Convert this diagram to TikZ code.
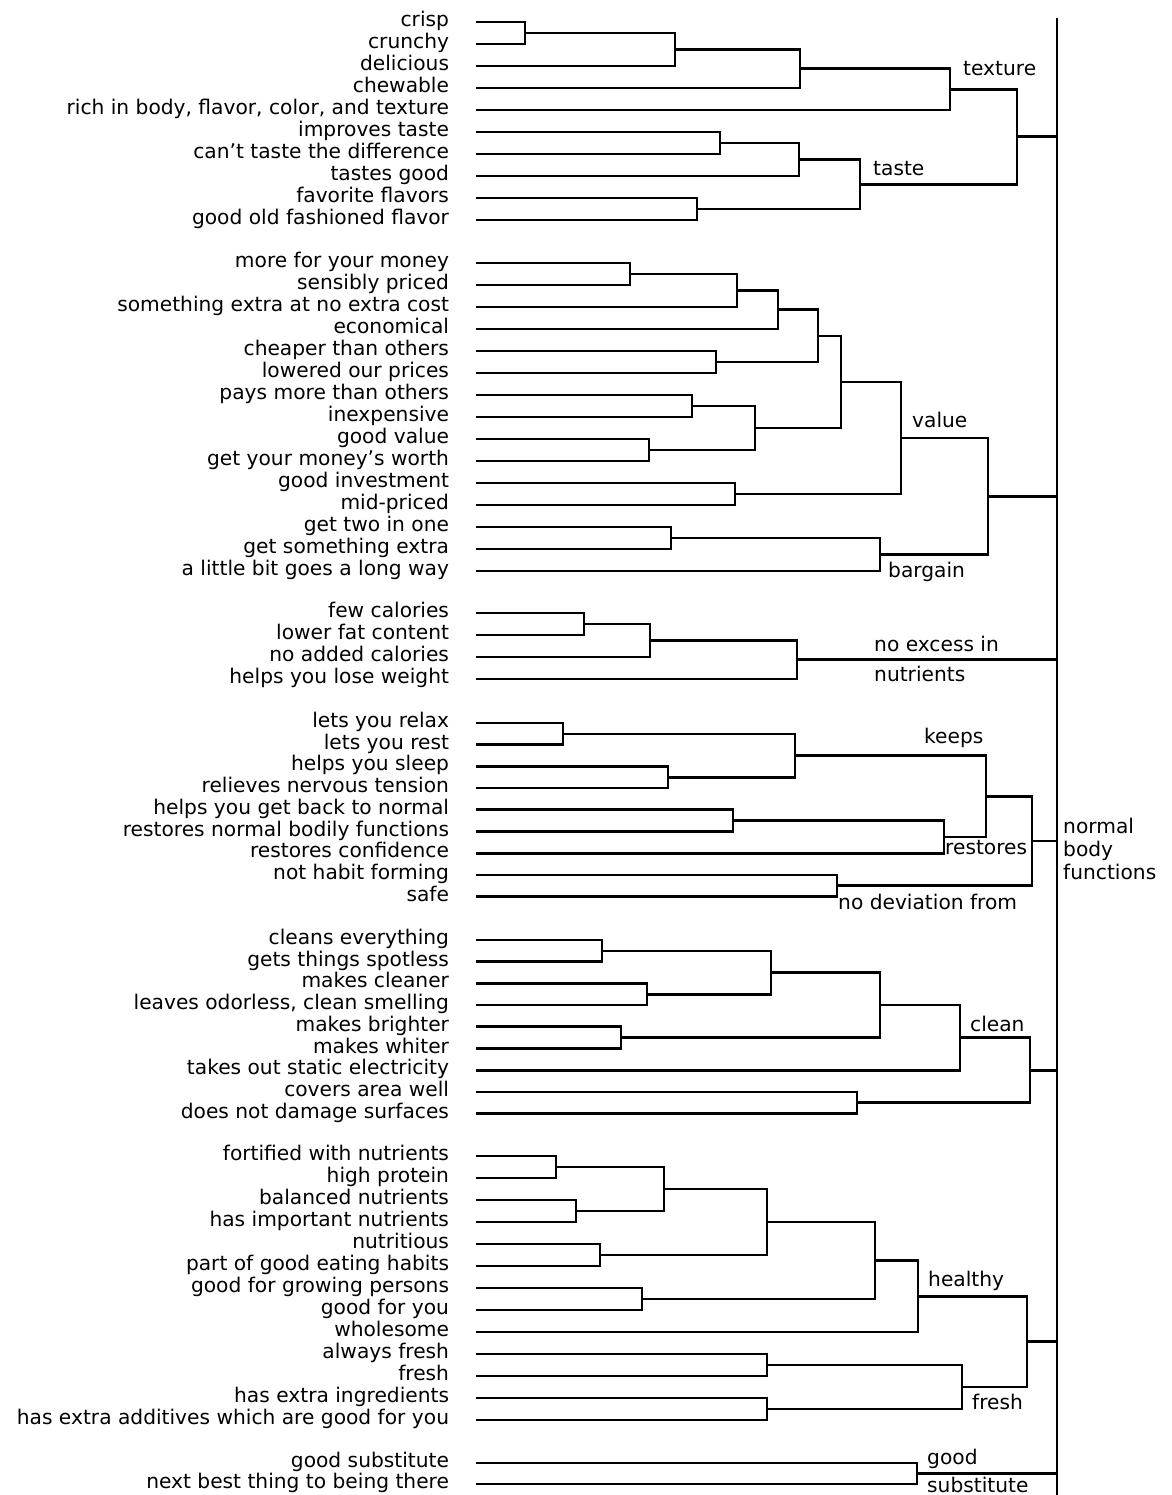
\documentclass[tikz,border=0pt]{standalone}
\usepackage{fontspec}
\setmainfont{DejaVu Sans}
\usepackage{tikz}
\usetikzlibrary{calc}
\tikzset{
  branch/.style={line width=2.7pt},
  item/.style={anchor=east,inner xsep=0pt,inner ysep=0pt,outer xsep=27pt,text height=14pt,text depth=5pt},
  tag/.style={anchor=base west,inner sep=0pt}
}
\newcommand\Merge[4]{%
  \coordinate (#4) at ($(#1 -| #3,0)!.5!(#2 -| #3,0)$);
  \draw[branch] (#1) -- (#1 -| #3,0) -- (#2 -| #3,0) -- (#2);}

\begin{document}
\begin{tikzpicture}[x=1pt,y=-1pt,font=\fontsize{20.2}{23}\selectfont]
  \useasboundingbox (0,0) rectangle (1171,1495);
  \coordinate (spTop) at (1057,18);
  \coordinate (spBot) at (1057,1495);
  \draw[line width=2.2pt] (spTop) -- (spBot);
  \foreach \txt [count=\i from 0] in {crisp,crunchy,delicious,chewable,{rich in body, flavor, color, and texture},improves taste,can't taste the difference,tastes good,favorite flavors,good old fashioned flavor}
    \node[item] (t\i) at (476,22+22*\i) {\txt};
  \foreach \txt [count=\i from 0] in {more for your money,sensibly priced,something extra at no extra cost,economical,cheaper than others,lowered our prices,pays more than others,inexpensive,good value,get your money's worth,good investment,mid-priced,get two in one,get something extra,a little bit goes a long way}
    \node[item] (v\i) at (476,263+22*\i) {\txt};
  \foreach \txt [count=\i from 0] in {few calories,lower fat content,no added calories,helps you lose weight}
    \node[item] (n\i) at (476,613+22*\i) {\txt};
  \foreach \txt [count=\i from 0] in {lets you relax,lets you rest,helps you sleep,relieves nervous tension,helps you get back to normal,restores normal bodily functions,restores confidence,not habit forming,safe}
    \node[item] (r\i) at (476,723+21.7*\i) {\txt};
  \foreach \txt [count=\i from 0] in {cleans everything,gets things spotless,makes cleaner,{leaves odorless, clean smelling},makes brighter,makes whiter,takes out static electricity,covers area well,does not damage surfaces}
    \node[item] (c\i) at (476,940+21.7*\i) {\txt};
  \foreach \txt [count=\i from 0] in {fortified with nutrients,high protein,balanced nutrients,has important nutrients,nutritious,part of good eating habits,good for growing persons,good for you,wholesome,always fresh,fresh,has extra ingredients,has extra additives which are good for you}
    \node[item] (h\i) at (476,1156+22*\i) {\txt};
  \foreach \txt [count=\i from 0] in {good substitute,next best thing to being there}
    \node[item] (g\i) at (476,1463+21*\i) {\txt};

  \Merge{t0}{t1}{525}{t01}
  \Merge{t01}{t2}{675}{t02}
  \Merge{t02}{t3}{800}{t03}
  \Merge{t03}{t4}{950}{tex}
  \Merge{t5}{t6}{720}{t56}
  \Merge{t56}{t7}{799}{t57}
  \Merge{t8}{t9}{697}{t89}
  \Merge{t57}{t89}{860}{tas}
  \Merge{tex}{tas}{1017}{tt}
  \draw[branch] (tt) -- (tt -| spTop);

  \Merge{v0}{v1}{630}{v01}
  \Merge{v01}{v2}{737}{v02}
  \Merge{v02}{v3}{778}{v03}
  \Merge{v4}{v5}{716}{v45}
  \Merge{v03}{v45}{818}{v05}
  \Merge{v6}{v7}{692}{v67}
  \Merge{v8}{v9}{649}{v89}
  \Merge{v67}{v89}{755}{v69}
  \Merge{v05}{v69}{841}{v09}
  \Merge{v10}{v11}{735}{v1011}
  \Merge{v09}{v1011}{901}{val}
  \Merge{v12}{v13}{671}{v1213}
  \Merge{v1213}{v14}{880}{bar}
  \Merge{val}{bar}{988}{vb}
  \draw[branch] (vb) -- (vb -| spTop);

  \Merge{n0}{n1}{584}{n01}
  \Merge{n01}{n2}{650}{n02}
  \Merge{n02}{n3}{797}{nut}
  \draw[branch] (nut) -- (nut -| spTop);

  \Merge{r0}{r1}{563}{r01}
  \Merge{r2}{r3}{668}{r23}
  \Merge{r01}{r23}{795}{kee}
  \Merge{r4}{r5}{733}{r45}
  \Merge{r45}{r6}{944}{res}
  \Merge{kee}{res}{986}{kr}
  \Merge{r7}{r8}{837}{dev}
  \Merge{kr}{dev}{1032}{nor}
  \draw[branch] (nor) -- (nor -| spTop);

  \Merge{c0}{c1}{602}{c01}
  \Merge{c2}{c3}{647}{c23}
  \Merge{c01}{c23}{771}{c03}
  \Merge{c4}{c5}{621}{c45}
  \Merge{c03}{c45}{880}{c05}
  \Merge{c05}{c6}{960}{cle}
  \Merge{c7}{c8}{857}{c78}
  \Merge{cle}{c78}{1030}{cc}
  \draw[branch] (cc) -- (cc -| spTop);

  \Merge{h0}{h1}{556}{h01}
  \Merge{h2}{h3}{576}{h23}
  \Merge{h01}{h23}{664}{h03}
  \Merge{h4}{h5}{600}{h45}
  \Merge{h03}{h45}{767}{h05}
  \Merge{h6}{h7}{642}{h67}
  \Merge{h05}{h67}{875}{h07}
  \Merge{h07}{h8}{918}{hea}
  \Merge{h9}{h10}{767}{h910}
  \Merge{h11}{h12}{767}{h1112}
  \Merge{h910}{h1112}{962}{fre}
  \Merge{hea}{fre}{1027}{hf}
  \draw[branch] (hf) -- (hf -| spTop);

  \Merge{g0}{g1}{917}{sub}
  \draw[branch] (sub) -- (sub -| spTop);

  \node[tag] (lTexture) at (963,76) {texture};
  \node[tag] (lTaste) at (873,176) {taste};
  \node[tag] (lValue) at (912,427) {value};
  \node[tag] (lBargain) at (888,577) {bargain};
  \node[tag] (lNoExcess) at (874,651) {no excess in};
  \node[tag] (lNutrients) at (874,681) {nutrients};
  \node[tag] (lKeeps) at (924,743) {keeps};
  \node[tag] (lRestores) at (945,854) {restores};
  \node[tag] (lNoDev) at (838,909) {no deviation from};
  \node[tag,anchor=west,align=left] (lNormal) at (1063,849) {normal\\body\\functions};
  \node[tag] (lClean) at (970,1031) {clean};
  \node[tag] (lHealthy) at (928,1286) {healthy};
  \node[tag] (lFresh) at (972,1409) {fresh};
  \node[tag] (lGood) at (927,1464) {good};
  \node[tag] (lSubst) at (927,1492) {substitute};
\end{tikzpicture}
\end{document}
